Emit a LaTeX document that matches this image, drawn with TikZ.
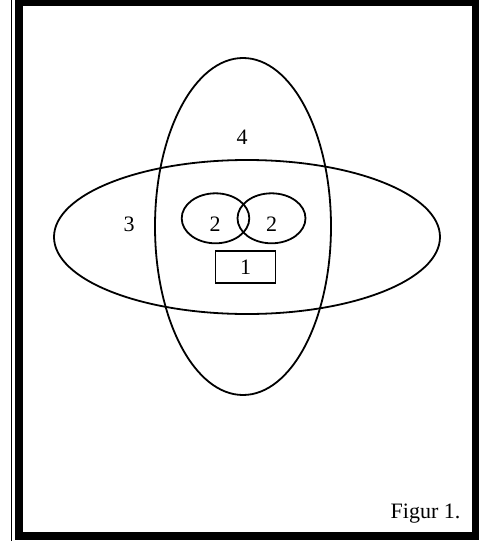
\documentclass[tikz,border=0pt]{standalone}
\usepackage{fontspec}
\setmainfont{Liberation Serif}
\begin{document}
\begin{tikzpicture}[x=1pt,y=-1pt,
  outl/.style={draw=black,line width=1.8pt},
  lbl/.style={font=\fontsize{22}{24}\selectfont,inner sep=0pt}]
\useasboundingbox (0,0) rectangle (479,541);
% frame
\draw[line width=1.3pt] (11.5,0) -- (11.5,541);
\draw[line width=8pt] (19,2) rectangle (475.5,535.5);
% ellipses
\draw[outl] (243,226.5) ellipse [x radius=88, y radius=168.5];
\draw[outl] (247,237) ellipse [x radius=193, y radius=77];
\draw[outl] (215.5,218.3) ellipse [x radius=33.8, y radius=25];
\draw[outl] (271.5,218.3) ellipse [x radius=34, y radius=25];
\node[outl,minimum width=60pt,minimum height=32pt,inner sep=0pt] (r1) at (245.5,267) {};
% labels
\node[lbl] (l1) at (r1) {1};
\node[lbl] (l2a) at (215,224) {2};
\node[lbl] (l2b) at (271.5,224) {2};
\node[lbl] (l3) at (129,224) {3};
\node[lbl] (l4) at (242,137) {4};
\node[lbl] (fig) at (425.5,514) {Figur 1.};
\end{tikzpicture}
\end{document}
